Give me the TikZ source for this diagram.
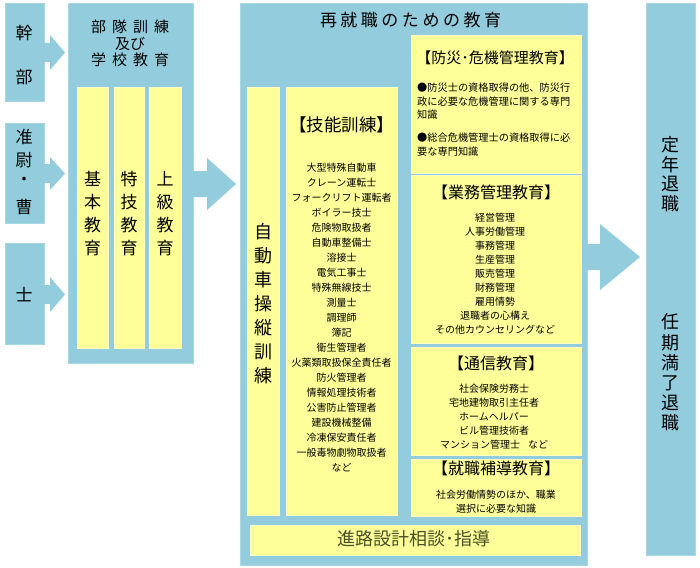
\documentclass[tikz,border=0pt]{standalone}
\usepackage{fontspec}
\setmainfont{Noto Sans CJK JP}
\definecolor{bl}{RGB}{147,205,221}
\definecolor{blE}{RGB}{168,215,228}
\definecolor{yl}{RGB}{255,255,153}
\definecolor{ylE}{RGB}{255,255,196}
\definecolor{olv}{RGB}{72,82,40}
\makeatletter
\def\ls#1#2{{\def\lsk{#1}\ls@a#2\relax}}
\def\ls@a#1{\ifx\relax#1\unkern\else#1\kern\lsk\relax\expandafter\ls@a\fi}
\makeatother
\tikzset{
  bluebox/.style={fill=bl, draw=blE, line width=0.8pt, inner sep=0pt, anchor=north west},
  yelbox/.style={fill=yl, draw=ylE, line width=0.8pt, inner sep=0pt, anchor=north west},
  arrowfill/.style={fill=bl},
  txt/.style={inner sep=0pt, text=black},
  vtext/.style={txt, align=center, font=\fontsize{17}{23}\selectfont},
  ttl/.style={txt, font=\fontsize{16}{16}\selectfont},
  lst/.style={txt, align=center, font=\fontsize{10}{14}\selectfont},
}
\begin{document}
\begin{tikzpicture}[x=1pt, y=-1pt]
\useasboundingbox (0,0) rectangle (700,567);
% left rank boxes
\node[bluebox, minimum width=39pt, minimum height=98pt] (kanbu) at (5,3) {};
\node[bluebox, minimum width=39pt, minimum height=100pt] (junsou) at (5,123) {};
\node[bluebox, minimum width=39pt, minimum height=101pt] (shi) at (5,243) {};
% unit training box
\node[bluebox, minimum width=125pt, minimum height=360pt] (butai) at (68,3) {};
\node[yelbox, minimum width=31pt, minimum height=261pt] (col1) at (77,87) {};
\node[yelbox, minimum width=30pt, minimum height=261pt] (col2) at (114,87) {};
\node[yelbox, minimum width=32pt, minimum height=261pt] (col3) at (149,87) {};
% re-employment box
\node[bluebox, minimum width=347pt, minimum height=562pt] (saishu) at (240,3) {};
\node[yelbox, minimum width=32pt, minimum height=428pt] (jido) at (247,87) {};
\node[yelbox, minimum width=111pt, minimum height=428pt] (ginou) at (286,87) {};
\node[yelbox, minimum width=170pt, minimum height=138pt] (bousai) at (411,35) {};
\node[yelbox, minimum width=170pt, minimum height=168pt] (gyomu) at (411,175) {};
\node[yelbox, minimum width=170pt, minimum height=108pt] (tsushin) at (411,347) {};
\node[yelbox, minimum width=170pt, minimum height=57pt] (shushoku) at (411,459) {};
\node[yelbox, minimum width=330pt, minimum height=30pt] (shinro) at (250,525) {};
% retirement box
\node[bluebox, minimum width=49pt, minimum height=552pt] (teinen) at (646,3) {};

% arrows
\fill[arrowfill] (43.5,43) -- (50,43) -- (50,35) -- (65,52.5) -- (50,70) -- (50,62) -- (43.5,62) -- cycle;
\fill[arrowfill] (43.5,164) -- (50,164) -- (50,157) -- (65,173.5) -- (50,190) -- (50,183) -- (43.5,183) -- cycle;
\fill[arrowfill] (43.5,285) -- (50,285) -- (50,277) -- (65,294.5) -- (50,312) -- (50,304) -- (43.5,304) -- cycle;
\fill[arrowfill] (192.5,171) -- (207,171) -- (207,158) -- (236,184) -- (207,210) -- (207,197) -- (192.5,197) -- cycle;
\fill[arrowfill] (586.5,244) -- (600,244) -- (600,224) -- (640,257) -- (600,290) -- (600,270) -- (586.5,270) -- cycle;

% left texts
\node[txt, font=\fontsize{17}{17}\selectfont] (k1) at (24,33) {幹};
\node[txt, font=\fontsize{17}{17}\selectfont] (k2) at (24,77) {部};
\node[txt, font=\fontsize{17}{17}\selectfont] (j1) at (24,137) {准};
\node[txt, font=\fontsize{17}{17}\selectfont] (j2) at (24,160) {尉};
\node[txt, font=\fontsize{17}{17}\selectfont] (j3) at (24,181) {・};
\node[txt, font=\fontsize{17}{17}\selectfont] (j4) at (24,207) {曹};
\node[txt, font=\fontsize{17}{17}\selectfont] (s1) at (24,295) {士};

\node[txt, align=center, font=\fontsize{15}{16.5}\selectfont] (butaiT) at (130,43.5) {\ls{6pt}{部隊訓練}\\及び\\\ls{6pt}{学校教育}};
\node[vtext] (c1t) at (92.5,214) {基\\本\\教\\育};
\node[vtext] (c2t) at (129,214) {特\\技\\教\\育};
\node[vtext] (c3t) at (165,214) {上\\級\\教\\育};

% re-employment texts
\node[txt, font=\fontsize{17}{17}\selectfont] (saishuT) at (410.5,20) {\ls{3.5pt}{再就職のための教育}};
\node[vtext, font=\fontsize{18}{24}\selectfont] (jidoT) at (263,304) {自\\動\\車\\操\\縦\\訓\\練};
\node[txt, font=\fontsize{17.5}{17.5}\selectfont] (ginouT) at (341.5,125) {【技能訓練】};
\node[lst, font=\fontsize{10}{15}\selectfont] (ginouL) at (341.5,318) {大型特殊自動車\\クレーン運転士\\フォークリフト運転者\\ボイラー技士\\危険物取扱者\\自動車整備士\\溶接士\\電気工事士\\特殊無線技士\\測量士\\調理師\\簿記\\衛生管理者\\火薬類取扱保全責任者\\防火管理者\\情報処理技術者\\公害防止管理者\\建設機械整備\\冷凍保安責任者\\一般毒物劇物取扱者\\など};

\node[txt, font=\fontsize{15}{15}\selectfont] (bousaiT) at (495,58) {【防災･危機管理教育】};
\node[txt, align=left, anchor=west, font=\fontsize{10.2}{13.5}\selectfont] (bousaiA) at (417,101.5) {●防災士の資格取得の他、防災行\\政に必要な危機管理に関する専門\\知識};
\node[txt, align=left, anchor=west, font=\fontsize{10.2}{14}\selectfont] (bousaiB) at (417,145) {●総合危機管理士の資格取得に必\\要な専門知識};

\node[ttl] (gyomuT) at (496,192) {【業務管理教育】};
\node[lst] (gyomuL) at (495,274) {経営管理\\人事労働管理\\事務管理\\生産管理\\販売管理\\財務管理\\雇用情勢\\退職者の心構え\\その他カウンセリングなど};

\node[ttl] (tsushinT) at (496,363) {【通信教育】};
\node[lst] (tsushinL) at (494,417) {社会保険労務士\\宅地建物取引主任者\\ホームヘルパー\\ビル管理技術者\\マンション管理士\hspace{8pt}など};

\node[ttl] (shushokuT) at (496,468) {【就職補導教育】};
\node[lst] (shushokuL) at (496,502) {社会労働情勢のほか、職業\\選択に必要な知識};

\node[txt, text=olv, font=\fontsize{18}{18}\selectfont] (shinroT) at (414,539) {進路設計相談･指導};

% retirement texts
\node[vtext, font=\fontsize{18}{19.5}\selectfont] (teinenA) at (670,174) {定\\年\\退\\職};
\node[vtext, font=\fontsize{18}{20.2}\selectfont] (teinenB) at (670,372.5) {任\\期\\満\\了\\退\\職};
\end{tikzpicture}
\end{document}
